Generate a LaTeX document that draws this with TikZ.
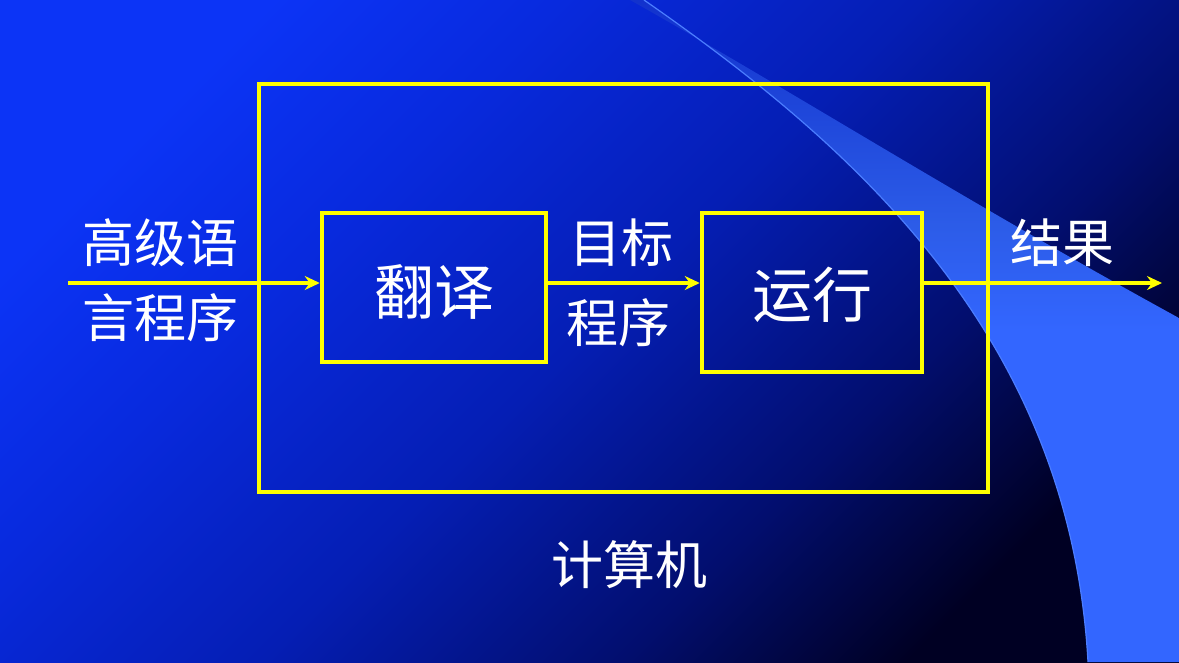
\documentclass[tikz,border=0pt]{standalone}
\usepackage{fontspec}
\newfontfamily\cjk{Noto Sans CJK SC}
\usetikzlibrary{arrows.meta}
\definecolor{bgA}{RGB}{12,52,246}
\definecolor{bgB}{RGB}{8,42,222}
\definecolor{bgC}{RGB}{5,30,180}
\definecolor{bgD}{RGB}{2,14,110}
\definecolor{bgE}{RGB}{0,0,35}
\definecolor{swA}{RGB}{51,102,255}
\definecolor{swB}{RGB}{44,92,232}
\definecolor{swC}{RGB}{18,50,205}
\definecolor{swline}{RGB}{75,125,255}
\definecolor{yel}{RGB}{255,255,0}
\pgfdeclareverticalshading{bgshade}{100bp}{color(0bp)=(bgE); color(25bp)=(bgE); color(36bp)=(bgD); color(50bp)=(bgC); color(64bp)=(bgB); color(75bp)=(bgA); color(100bp)=(bgA)}
\pgfdeclareverticalshading{swshade}{100bp}{color(0bp)=(swA); color(50bp)=(swA); color(58bp)=(swB); color(75bp)=(swC); color(100bp)=(swC)}
\begin{document}
\begin{tikzpicture}[x=1pt,y=-1pt,
  ybox/.style={draw=yel, line width=4.5pt, inner sep=0pt},
  lbl/.style={text=white, inner sep=0pt, font=\cjk\fontsize{52}{52}\selectfont},
  biglbl/.style={text=white, inner sep=0pt, font=\cjk\fontsize{60}{60}\selectfont},
  flow/.style={draw=yel, line width=4.5pt, -{Stealth[length=15pt,width=14pt,inset=5pt]}}]
\useasboundingbox (0,0) rectangle (1179,662);
% background
\shade[shading=bgshade, shading angle=45] (0,0) rectangle (1179,662);
% swoosh
\shade[shading=swshade] (644,0) .. controls (860,150) and (1070,340) .. (1088,662)
  -- (1179,662) -- (1179,318) .. controls (960,198) and (790,90) .. (630,0) -- cycle;
\draw[swline, line width=1.2pt] (644,0) .. controls (860,150) and (1070,340) .. (1088,662);
% boxes
\node[ybox, minimum width=729pt, minimum height=408pt] (computer) at (623.5,288) {};
\node[ybox, minimum width=224pt, minimum height=149pt] (fanyi) at (434,287.5) {};
\node[ybox, minimum width=220pt, minimum height=159pt] (yunxing) at (812,292.5) {};
\node[biglbl] (fanyiT) at (fanyi.center) [yshift=-4pt] {翻译};
\node[biglbl] (yunxingT) at (yunxing.center) [yshift=-2pt] {运行};
% labels
\node[lbl] (src1) at (160,243) {高级语};
\node[lbl] (src2) at (160,318) {言程序};
\node[lbl] (obj1) at (621,243) {目标};
\node[lbl] (obj2) at (618,323) {程序};
\node[lbl] (res) at (1062,243) {结果};
\node[lbl] (comp) at (629,565) {计算机};
% arrows
\coordinate (start) at (68,283);
\coordinate (finish) at (1162,283);
\draw[flow] (start) -- (start -| fanyi.west);
\draw[flow] (start -| fanyi.east) -- (start -| yunxing.west);
\draw[flow] (start -| yunxing.east) -- (finish);
\end{tikzpicture}
\end{document}
